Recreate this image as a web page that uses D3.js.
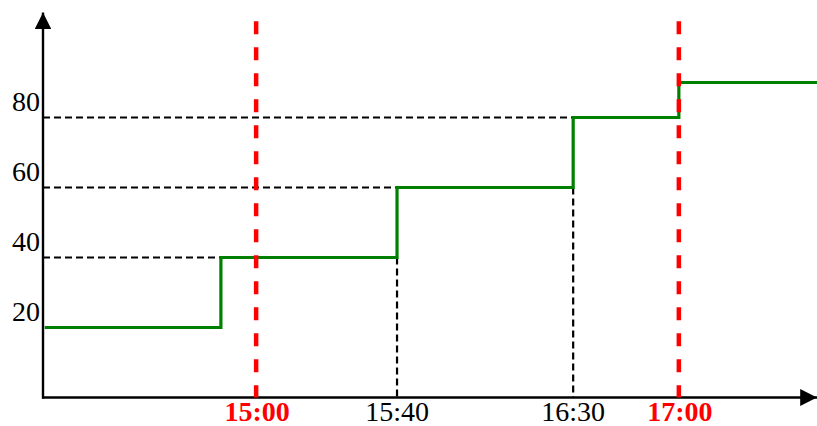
<!DOCTYPE html>
<html>
<head>
<meta charset="utf-8">
<script src="https://cdn.jsdelivr.net/npm/d3@7"></script>
<style>
    body { margin: 0; background: #fff; }
    svg { display: block; }
    .tick-label { font-family: "Liberation Serif", "Times New Roman", serif; font-size: 28px; }
</style>
</head>
<body>
<div id="chart"></div>
<script>
// step function: value held from each time until the next one
const stepTimes = ["14:00", "14:50", "15:40", "16:30", "17:00"];
const stepValues = [20, 40, 60, 80, 90];
const endTime = "17:40";

const yTickLabels = [20, 40, 60, 80];
const deadlineTimes = ["15:00", "17:00"];
const markTimes = ["15:40", "16:30"];

const width = 817;
const height = 426;

const toMin = s => { const p = s.split(":"); return +p[0] * 60 + +p[1]; };

const x = d3.scaleLinear()
    .domain([toMin("13:59") + 0.5, toMin("17:39") + 0.5])
    .range([43, 818]);

const y = d3.scaleLinear()
    .domain([0, 110])
    .range([397.5, 12.5]);

const svg = d3.select("#chart").append("svg")
    .attr("width", width)
    .attr("height", height);

// points of the step line
const stepPoints = stepTimes.map((t, i) => ({ t: toMin(t), v: stepValues[i] }));
stepPoints.push({ t: toMin(endTime) + 1, v: stepValues[stepValues.length - 1] });

// black dashed guide lines (level -> y axis, step time -> x axis)
const guides = svg.append("g")
    .attr("stroke", "black")
    .attr("stroke-width", 2.2)
    .attr("stroke-dasharray", "7,4");

stepPoints.slice(1, 4).forEach(d => {
    guides.append("line")
        .attr("x1", x.range()[0])
        .attr("x2", x(d.t))
        .attr("y1", y(d.v))
        .attr("y2", y(d.v));
});

stepPoints.slice(2, 4).forEach((d, i) => {
    guides.append("line")
        .attr("x1", x(d.t))
        .attr("x2", x(d.t))
        .attr("y1", y(stepPoints[i + 1].v))
        .attr("y2", y(0));
});

// green step line
svg.append("path")
    .datum(stepPoints)
    .attr("fill", "none")
    .attr("stroke", "#008000")
    .attr("stroke-width", 3.2)
    .attr("d", d3.line()
        .x(d => x(d.t))
        .y(d => y(d.v))
        .curve(d3.curveStepAfter));

// axes with arrows
svg.append("defs").append("marker")
    .attr("id", "arrow")
    .attr("viewBox", "0 0 10 10")
    .attr("refX", 10)
    .attr("refY", 5)
    .attr("markerWidth", 7)
    .attr("markerHeight", 7)
    .attr("markerUnits", "strokeWidth")
    .attr("orient", "auto")
    .append("path")
    .attr("d", "M0,0 L10,5 L0,10 z")
    .attr("fill", "black");

svg.append("line")
    .attr("x1", x.range()[0])
    .attr("x2", x.range()[0])
    .attr("y1", y(0) + 1)
    .attr("y2", y.range()[1])
    .attr("stroke", "black")
    .attr("stroke-width", 2.4)
    .attr("marker-end", "url(#arrow)");

svg.append("line")
    .attr("x1", x.range()[0] - 1)
    .attr("x2", width)
    .attr("y1", y(0))
    .attr("y2", y(0))
    .attr("stroke", "black")
    .attr("stroke-width", 2.4)
    .attr("marker-end", "url(#arrow)");

// y tick labels
svg.append("g").selectAll("text")
    .data(yTickLabels)
    .join("text")
    .attr("class", "tick-label")
    .attr("x", x.range()[0] - 3)
    .attr("y", d => y(d) - 7)
    .attr("text-anchor", "end")
    .text(d => d);

// x labels
svg.append("g").selectAll("text")
    .data(markTimes)
    .join("text")
    .attr("class", "tick-label")
    .attr("x", d => x(toMin(d)))
    .attr("y", 421)
    .attr("text-anchor", "middle")
    .text(d => d);

svg.append("g").selectAll("text")
    .data(deadlineTimes)
    .join("text")
    .attr("class", "tick-label")
    .attr("x", d => x(toMin(d)) + 1)
    .attr("y", 421)
    .attr("text-anchor", "middle")
    .attr("font-weight", "bold")
    .attr("fill", "#ff0000")
    .text(d => d);

// red dashed deadlines
svg.append("g").selectAll("line")
    .data(deadlineTimes)
    .join("line")
    .attr("x1", d => x(toMin(d)))
    .attr("x2", d => x(toMin(d)))
    .attr("y1", y(107.5))
    .attr("y2", y(0))
    .attr("stroke", "#ff0000")
    .attr("stroke-width", 4.5)
    .attr("stroke-dasharray", "13,13");
</script>
</body>
</html>
